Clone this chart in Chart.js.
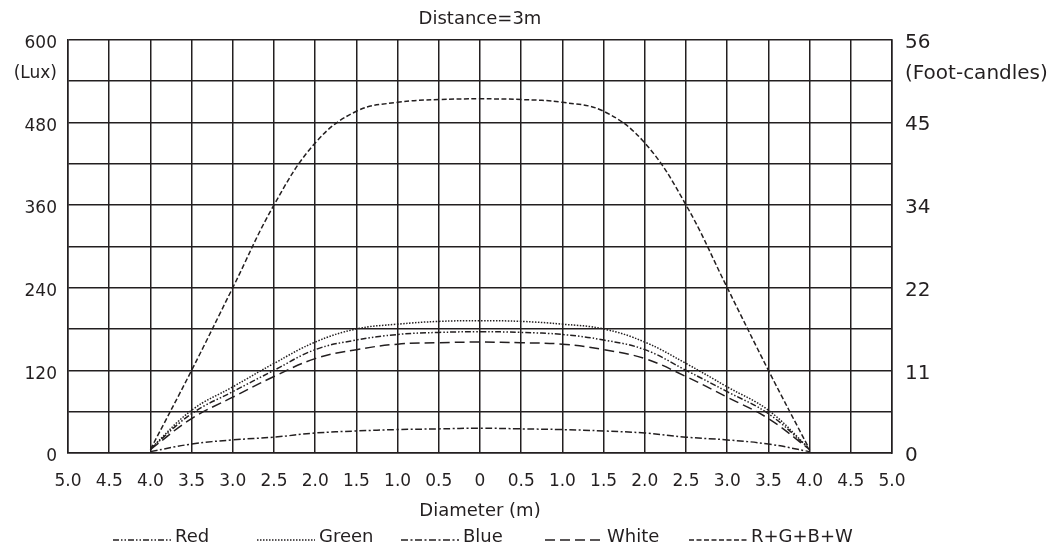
<!DOCTYPE html>
<html>
<head>
<meta charset="utf-8">
<script src="https://cdn.jsdelivr.net/npm/chart.js@4.4.1/dist/chart.umd.min.js"></script>
<style>
  html, body { margin: 0; padding: 0; background: #fff; }
</style>
</head>
<body>
<canvas id="chart" width="1052" height="553"></canvas>
<script>
// diameter positions (m), negative = left of centre
const diameters = [-4, -3.5, -3, -2.5, -2, -1.5, -1, -0.5, 0, 0.5, 1, 1.5, 2, 2.5, 3, 3.5, 4]

// illuminance (lux) at distance 3m
const red   = [6, 57, 89, 120, 150, 164, 172, 175, 176, 175, 172, 164, 150, 120, 89, 57, 6]
const green = [6, 62, 96, 130, 161, 180, 187, 191, 192, 191, 187, 180, 161, 130, 96, 62, 6]
const blue  = [2, 13, 19, 23, 29, 32, 34, 35, 36, 35, 34, 32, 29, 23, 19, 13, 2]
const white = [5, 50, 81, 111, 137, 150, 158, 160, 161, 160, 158, 150, 137, 111, 81, 50, 5]
const rgbw  = [5, 120, 240, 360, 450, 496, 509, 513, 514, 513, 509, 496, 450, 360, 240, 120, 5]

const xTickLabels = ['5.0', '4.5', '4.0', '3.5', '3.0', '2.5', '2.0', '1.5', '1.0', '0.5', '0',
                     '0.5', '1.0', '1.5', '2.0', '2.5', '3.0', '3.5', '4.0', '4.5', '5.0']
const luxTickLabels = ['0', '', '120', '', '240', '', '360', '', '480', '', '600']
const fcTickLabels = ['0', '', '11', '', '22', '', '34', '', '45', '', '56']

const ink = '#231f20'
const font = 'DejaVu Sans'

const toPoints = values => values.map((v, i) => ({ x: diameters[i], y: v }))

const line = (label, values, dash) => ({
  label,
  data: toPoints(values),
  borderColor: ink,
  borderWidth: 1.5,
  borderDash: dash,
  pointRadius: 0,
  fill: false,
  tension: 0.4
})

// legend + unit captions drawn by hand so they sit where the original has them
const extras = {
  id: 'extras',
  afterDraw(chart) {
    const { ctx, chartArea, scales } = chart
    ctx.save()
    ctx.fillStyle = ink
    ctx.textBaseline = 'middle'

    const unitY = scales.y.getPixelForValue(540) - 7
    ctx.font = `17px "${font}"`
    ctx.textAlign = 'right'
    ctx.fillText('(Lux)', chartArea.left - 11, unitY)
    ctx.font = `20px "${font}"`
    ctx.textAlign = 'left'
    ctx.fillText('(Foot-candles)', chartArea.right + 13, unitY)

    ctx.font = `18px "${font}"`
    chart.data.datasets.forEach((ds, i) => {
      const x = chartArea.left + 45 + i * 144
      const y = 537
      ctx.strokeStyle = ds.borderColor
      ctx.lineWidth = ds.borderWidth
      ctx.setLineDash(ds.borderDash)
      ctx.beginPath()
      ctx.moveTo(x, y + 3)
      ctx.lineTo(x + 58, y + 3)
      ctx.stroke()
      ctx.setLineDash([])
      ctx.fillText(ds.label, x + 62, y)
    })
    ctx.restore()
  }
}

new Chart(document.getElementById('chart'), {
  type: 'line',
  data: {
    datasets: [
      line('Red', red, [6, 2, 1.5, 2, 1.5, 2]),
      line('Green', green, [1.5, 1.5]),
      line('Blue', blue, [7, 2.5, 2, 2.5]),
      line('White', white, [10, 5]),
      line('R+G+B+W', rgbw, [5, 2.5])
    ]
  },
  options: {
    responsive: false,
    animation: false,
    layout: { padding: { right: 92, bottom: 31 } },
    plugins: {
      legend: { display: false },
      tooltip: { enabled: false },
      title: {
        display: true,
        text: 'Distance=3m',
        color: ink,
        font: { family: font, size: 18, weight: 'normal' },
        padding: { top: 9, bottom: 9 }
      }
    },
    scales: {
      x: {
        type: 'linear',
        min: -5,
        max: 5,
        afterFit: scale => { scale.height = 69 },
        ticks: {
          stepSize: 0.5,
          padding: 18,
          color: ink,
          font: { family: font, size: 17 },
          callback: (v, i) => xTickLabels[i]
        },
        grid: { color: ink, lineWidth: 1.5, drawTicks: false },
        border: { color: ink, width: 1.5 },
        title: {
          display: true,
          text: 'Diameter (m)',
          color: ink,
          font: { family: font, size: 18 },
          padding: { top: 9, bottom: 0 }
        }
      },
      y: {
        position: 'left',
        min: 0,
        max: 600,
        afterFit: scale => { scale.width = 68 },
        ticks: {
          stepSize: 60,
          padding: 11,
          labelOffset: 4,
          color: ink,
          font: { family: font, size: 17 },
          callback: (v, i) => luxTickLabels[i]
        },
        grid: { color: ink, lineWidth: 1.5, drawTicks: false },
        border: { color: ink, width: 1.5 }
      },
      y2: {
        position: 'right',
        min: 0,
        max: 56,
        afterFit: scale => { scale.width = 68 },
        afterBuildTicks: scale => {
          scale.ticks = fcTickLabels.map((t, i) => ({ value: i * 5.6 }))
        },
        ticks: {
          padding: 13,
          labelOffset: 3,
          color: ink,
          font: { family: font, size: 20 },
          callback: (v, i) => fcTickLabels[i]
        },
        grid: { display: false, drawTicks: false },
        border: { color: ink, width: 1.5 }
      }
    }
  },
  plugins: [extras]
})
</script>
</body>
</html>
